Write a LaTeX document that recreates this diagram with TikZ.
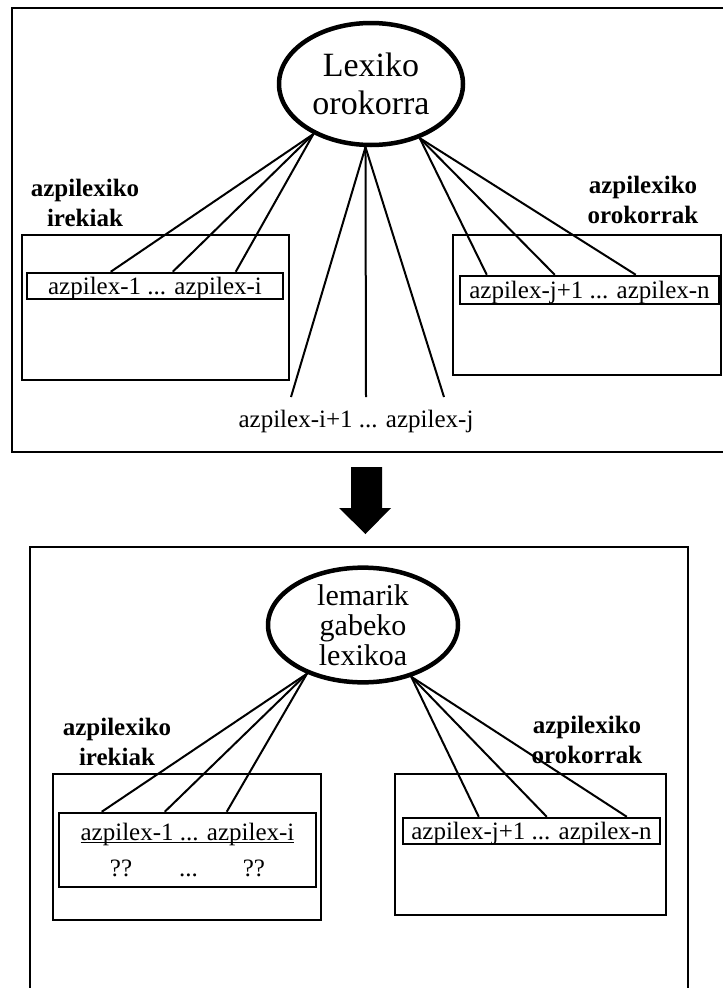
\documentclass[tikz,border=0pt]{standalone}
\usepackage{fontspec}
\setmainfont{Liberation Serif}
\usetikzlibrary{shapes.geometric}
% underline that sits close to the baseline, crossing the descenders
\newcommand\ulinetext[1]{\setbox0\hbox{#1}\rlap{\rule[-2.5pt]{\wd0}{1.2pt}}\box0}
\begin{document}
\begin{tikzpicture}[x=1pt,y=-1pt,
  frame/.style={line width=2.5pt},
  hub/.style={ellipse, draw, line width=4.5pt, inner sep=0pt, align=center},
  group/.style={draw, line width=2.2pt, inner sep=0pt},
  itemrow/.style={draw, line width=2.5pt, inner sep=0pt,
    font=\fontsize{25}{30}\selectfont, text height=17pt, text depth=0pt},
  itembox/.style={draw, line width=2.5pt, inner sep=0pt, align=center,
    font=\fontsize{25}{36}\selectfont},
  grouplabel/.style={align=center, inner sep=0pt, font=\fontsize{25}{30}\selectfont\bfseries},
  plain/.style={inner sep=0pt, font=\fontsize{25}{30}\selectfont},
  link/.style={line width=2pt}
]
\useasboundingbox (0,0) rectangle (723,988);

% ---------------- upper panel: general lexicon ----------------
\draw[frame] (723,8) -- (12,8) -- (12,452) -- (723,452);

\node[hub, minimum width=184pt, minimum height=122pt,
      font=\fontsize{34}{38}\selectfont] (lex) at (371,84) {Lexiko\\orokorra};

\node[grouplabel] (lblA) at (85,202.5) {azpilexiko\\irekiak};
\node[grouplabel] (lblB) at (643,200) {azpilexiko\\orokorrak};

\node[group, minimum width=267pt, minimum height=145pt] (grpA) at (155.5,307.5) {};
\node[group, minimum width=268pt, minimum height=140pt] (grpB) at (587,305) {};

\node[itemrow, minimum width=256pt, minimum height=26pt] (rowA) at (155,286)
  {azpilex-1 ... azpilex-i};
\node[itemrow, minimum width=259pt, minimum height=28pt] (rowB) at (589.5,290)
  {azpilex-j+1 ... azpilex-n};

\node[plain, anchor=base] (mid) at (356,427) {azpilex-i+1 ... azpilex-j};
\coordinate (m1) at (291,397);
\coordinate (m2) at (366,397);
\coordinate (m3) at (444,397);

\draw[link] (lex.221) -- ([xshift=85pt]rowA.north west);
\draw[link] (lex.221) -- ([xshift=147pt]rowA.north west);
\draw[link] (lex.221) -- ([xshift=210pt]rowA.north west);
\draw[link] (lex.265) -- (m1);
\draw[link] (lex.265) -- (m2);
\draw[link] (lex.265) -- (m3);
\draw[link] (lex.312) -- ([xshift=28pt]rowB.north west);
\draw[link] (lex.312) -- ([xshift=96pt]rowB.north west);
\draw[link] (lex.312) -- ([xshift=177pt]rowB.north west);

% ---------------- transition arrow ----------------
\fill (351,467) -- (382,467) -- (382,508) -- (391,508) -- (365.5,534)
  -- (339,508) -- (351,508) -- cycle;

% ---------------- lower panel: lexicon without lemmas ----------------
\draw[frame] (30,988) -- (30,547) -- (688,547) -- (688,988);

\node[hub, minimum width=190pt, minimum height=112pt,
      font=\fontsize{30}{30}\selectfont] (lem) at (363,625) {lemarik\\gabeko\\lexikoa};

\node[grouplabel] (lblC) at (117,741.5) {azpilexiko\\irekiak};
\node[grouplabel] (lblD) at (587,739.5) {azpilexiko\\orokorrak};

\node[group, minimum width=268pt, minimum height=146pt] (grpC) at (187,847) {};
\node[group, minimum width=271pt, minimum height=141pt] (grpD) at (530.5,844.5) {};

\node[itembox, minimum width=257pt, minimum height=74pt] (rowC) at (187.5,850)
  {\ulinetext{azpilex-1 ... azpilex-i}\\??\hspace{47pt}...\hspace{45pt}??};
\node[itemrow, minimum width=257pt, minimum height=26pt] (rowD) at (531.5,831)
  {azpilex-j+1 ... azpilex-n};

\draw[link] (lem.221) -- ([xshift=44pt]rowC.north west);
\draw[link] (lem.221) -- ([xshift=107pt]rowC.north west);
\draw[link] (lem.221) -- ([xshift=169pt]rowC.north west);
\draw[link] (lem.313) -- ([xshift=77pt]rowD.north west);
\draw[link] (lem.313) -- ([xshift=145pt]rowD.north west);
\draw[link] (lem.313) -- ([xshift=225pt]rowD.north west);
\end{tikzpicture}
\end{document}
